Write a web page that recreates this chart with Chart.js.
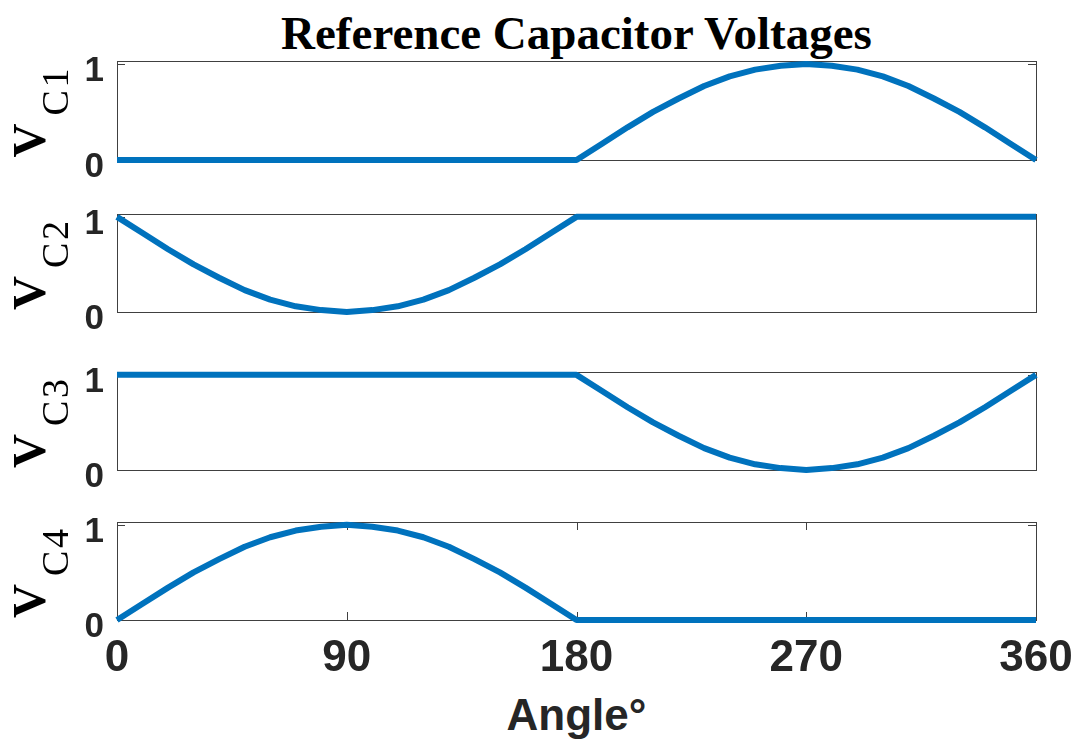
<!DOCTYPE html>
<html>
<head>
<meta charset="utf-8">
<title>Reference Capacitor Voltages</title>
<script src="https://cdn.jsdelivr.net/npm/chart.js@4.4.0/dist/chart.umd.min.js"></script>
<style>
  body { margin: 0; background: #fff; width: 1078px; height: 741px; position: relative; overflow: hidden; }
  .title { position: absolute; left: 117px; width: 919px; top: 6px; line-height: 46px; text-align: center;
           font: bold 47px "Liberation Serif", "Times New Roman", serif; color: #000; white-space: nowrap; }
  .xlabel { position: absolute; left: 117px; width: 919px; top: 690px; line-height: 44px; text-align: center;
            font: bold 44px "Liberation Sans", Arial, sans-serif; color: #262626; }
  .panel { position: absolute; left: 0; width: 1078px; }
</style>
</head>
<body>
<div class="title">Reference Capacitor Voltages</div>
<div class="panel" id="p0"><canvas id="c0"></canvas></div>
<div class="panel" id="p1"><canvas id="c1"></canvas></div>
<div class="panel" id="p2"><canvas id="c2"></canvas></div>
<div class="panel" id="p3"><canvas id="c3"></canvas></div>
<div class="xlabel">Angle°</div>

<script>
// angle in degrees
const angle = [0, 10, 20, 30, 40, 50, 60, 70, 80, 90, 100, 110, 120, 130, 140, 150, 160, 170, 180,
               190, 200, 210, 220, 230, 240, 250, 260, 270, 280, 290, 300, 310, 320, 330, 340, 350, 360];

const vc1 = [0, 0, 0, 0, 0, 0, 0, 0, 0, 0, 0, 0, 0, 0, 0, 0, 0, 0, 0,
             0.17, 0.34, 0.50, 0.64, 0.77, 0.87, 0.94, 0.98, 1.00, 0.98, 0.94, 0.87, 0.77, 0.64, 0.50, 0.34, 0.17, 0.00];
const vc2 = [1.00, 0.83, 0.66, 0.50, 0.36, 0.23, 0.13, 0.06, 0.02, 0.00, 0.02, 0.06, 0.13, 0.23, 0.36, 0.50, 0.66, 0.83, 1.00,
             1, 1, 1, 1, 1, 1, 1, 1, 1, 1, 1, 1, 1, 1, 1, 1, 1, 1];
const vc3 = [1, 1, 1, 1, 1, 1, 1, 1, 1, 1, 1, 1, 1, 1, 1, 1, 1, 1, 1,
             0.83, 0.66, 0.50, 0.36, 0.23, 0.13, 0.06, 0.02, 0.00, 0.02, 0.06, 0.13, 0.23, 0.36, 0.50, 0.66, 0.83, 1.00];
const vc4 = [0.00, 0.17, 0.34, 0.50, 0.64, 0.77, 0.87, 0.94, 0.98, 1.00, 0.98, 0.94, 0.87, 0.77, 0.64, 0.50, 0.34, 0.17, 0.00,
             0, 0, 0, 0, 0, 0, 0, 0, 0, 0, 0, 0, 0, 0, 0, 0, 0, 0];

const series = [vc1, vc2, vc3, vc4];
const subLabels = ['C1', 'C2', 'C3', 'C4'];
const xTicks = [0, 90, 180, 270, 360];
const yTicks = [0, 1];

// layout of the four axes boxes (pixels)
const plotTops = [61, 214, 372, 522];
const plotHeights = [99, 98, 98, 98];
const PAD = 30;
const XAXIS_H = 60;
const LINE_COLOR = '#0072BD';
const AXIS_COLOR = '#262626';

const framePlugin = {
    id: 'frame',
    beforeDatasetsDraw(chart, args, opts) {
        const { ctx, chartArea: a, scales: { x, y } } = chart;
        ctx.save();
        ctx.strokeStyle = '#404040';
        ctx.lineWidth = 1;
        ctx.strokeRect(Math.round(a.left) + 0.5, Math.round(a.top) + 0.5, Math.round(a.width), Math.round(a.height));
        ctx.beginPath();
        yTicks.forEach(v => {
            const py = Math.round(y.getPixelForValue(v)) + 0.5;
            ctx.moveTo(a.left, py); ctx.lineTo(a.left + 8, py);
            ctx.moveTo(a.right, py); ctx.lineTo(a.right - 8, py);
        });
        if (opts.xTicks) {
            xTicks.forEach(v => {
                const px = Math.round(x.getPixelForValue(v)) + 0.5;
                ctx.moveTo(px, a.top); ctx.lineTo(px, a.top + 8);
                ctx.moveTo(px, a.bottom); ctx.lineTo(px, a.bottom - 8);
            });
        }
        ctx.stroke();
        ctx.restore();
    },
    afterDraw(chart, args, opts) {
        const { ctx, chartArea: a } = chart;
        const cy = (a.top + a.bottom) / 2;
        ctx.save();
        ctx.translate(45, cy + 47);
        ctx.rotate(-Math.PI / 2);
        ctx.fillStyle = '#000';
        ctx.textAlign = 'left';
        ctx.textBaseline = 'alphabetic';
        ctx.font = 'bold 47px "Liberation Serif", "Times New Roman", serif';
        ctx.fillText('V', 0, 0);
        ctx.font = '38px "Liberation Serif", "Times New Roman", serif';
        ctx.fillText(opts.sub[0], 42, 23);
        ctx.fillText(opts.sub.slice(1), 70, 23);
        ctx.restore();
    }
};

function makePanel(i) {
    const last = i === series.length - 1;
    const panel = document.getElementById('p' + i);
    panel.style.top = (plotTops[i] - PAD) + 'px';
    panel.style.height = (PAD + plotHeights[i] + (last ? XAXIS_H : PAD)) + 'px';

    new Chart(document.getElementById('c' + i), {
        type: 'line',
        data: {
            datasets: [{
                data: angle.map((a, k) => ({ x: a, y: series[i][k] })),
                borderColor: LINE_COLOR,
                borderWidth: 6,
                borderJoinStyle: 'round',
                pointRadius: 0,
                tension: 0,
                clip: false
            }]
        },
        options: {
            responsive: true,
            maintainAspectRatio: false,
            animation: false,
            layout: { padding: { top: PAD, bottom: last ? 0 : PAD, left: 0, right: 42 } },
            plugins: {
                legend: { display: false },
                tooltip: { enabled: false },
                frame: { sub: subLabels[i], xTicks: last }
            },
            scales: {
                x: {
                    type: 'linear',
                    min: 0,
                    max: 360,
                    display: last,
                    afterBuildTicks: s => { s.ticks = xTicks.map(v => ({ value: v })); },
                    afterFit: s => {
                        if (last) s.height = XAXIS_H;
                        s.paddingLeft = 0;
                        s.paddingRight = 0;
                    },
                    grid: { display: false, drawTicks: false },
                    border: { display: false },
                    ticks: {
                        color: AXIS_COLOR,
                        font: { family: '"Liberation Sans", Arial, sans-serif', size: 44, weight: 'bold' },
                        padding: 12,
                        maxRotation: 0,
                        autoSkip: false
                    }
                },
                y: {
                    min: 0,
                    max: 1.03,
                    afterBuildTicks: s => { s.ticks = yTicks.map(v => ({ value: v })); },
                    afterFit: s => {
                        s.width = 117;
                        s.paddingTop = 0;
                        s.paddingBottom = 0;
                    },
                    grid: { display: false, drawTicks: false },
                    border: { display: false },
                    ticks: {
                        color: AXIS_COLOR,
                        font: { family: '"Liberation Sans", Arial, sans-serif', size: 35, weight: 'bold' },
                        padding: 13,
                        labelOffset: 7,
                        autoSkip: false
                    }
                }
            }
        },
        plugins: [framePlugin]
    });
}

series.forEach((s, i) => makePanel(i));
</script>
</body>
</html>
